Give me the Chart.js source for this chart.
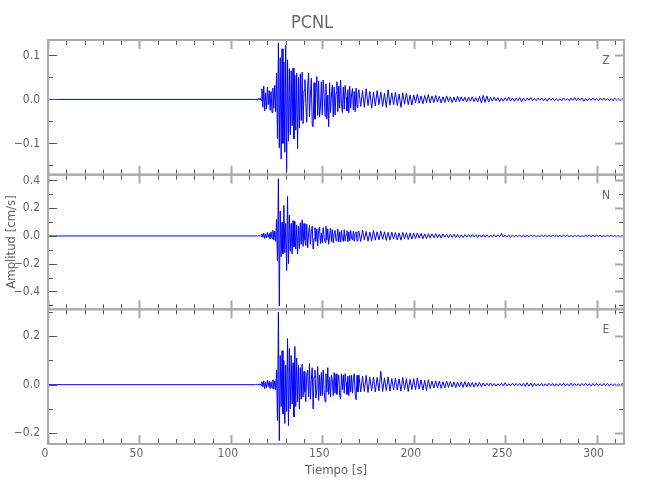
<!DOCTYPE html>
<html>
<head>
<meta charset="utf-8">
<title>PCNL</title>
<script src="https://cdn.jsdelivr.net/npm/chart.js@4.4.1/dist/chart.umd.min.js"></script>
<style>
  html, body { margin: 0; padding: 0; background: #fff; }
  #wrap { width: 650px; height: 500px; }
</style>
</head>
<body>
<div id="wrap"><canvas id="seismo" width="650" height="500"></canvas></div>
<script>
// ---- datos ----
// tiempo: tramo quieto hasta quietEnd, luego tramo A cada 0.5 s y tramo B cada 1 s
var quietEnd = 113.5;
var startA = 114, stepA = 0.5;
var startB = 170, stepB = 1;

// componente Z [cm/s]
var zA = [0.001,-0.002,0.002,-0.001,0.003,-0.002,
  0.024,-0.018,0.030,-0.026,0.015,-0.022,0.028,-0.012,0.020,-0.025,0.018,-0.030,0.026,-0.020,0.032,-0.028,
  0.060,-0.090,0.128,-0.110,0.095,-0.135,0.115,-0.100,0.085,-0.120,0.123,-0.165,
  0.090,-0.095,0.070,-0.080,0.065,-0.060,0.071,-0.090,0.055,-0.070,0.060,-0.112,0.050,-0.065,0.058,-0.048,0.062,-0.055,
  0.020,0.045,-0.010,-0.052,0.030,0.060,-0.040,0.010,0.048,-0.058,-0.062,0.038,-0.045,0.015,0.052,-0.036,0.042,-0.040,-0.015,0.040,
  -0.035,0.044,0.010,-0.038,0.035,-0.045,0.010,-0.062,0.038,-0.030,0.010,0.033,-0.040,0.028,-0.035,0.015,0.040,-0.028,0.030,-0.020,
  0.044,-0.010,-0.030,0.028,-0.022,0.032,0.005,-0.026,0.022,-0.030,0.030,-0.020,0.010,0.025,-0.024,0.018,-0.028,0.026,-0.018,0.012];
var zB = [0.022,-0.016,0.020,-0.018,0.024,-0.014,0.018,-0.020,0.016,-0.015,
  0.020,-0.012,0.017,-0.016,0.014,-0.018,0.022,-0.013,0.015,-0.012,
  0.016,-0.014,0.012,-0.018,0.015,-0.011,0.014,-0.012,0.010,-0.013,
  0.010,-0.008,0.012,-0.009,0.008,-0.010,0.009,-0.007,0.011,-0.008,
  0.008,-0.007,0.009,-0.006,0.007,-0.008,0.006,-0.007,0.008,-0.005,
  0.006,-0.007,0.005,-0.006,0.007,-0.005,0.006,-0.004,0.005,-0.006,
  0.005,-0.004,0.006,-0.005,0.004,-0.006,0.007,-0.008,0.009,-0.007,
  0.008,-0.006,0.005,-0.004,0.005,-0.003,0.004,-0.005,0.003,-0.004,
  0.004,-0.003,0.005,-0.004,0.003,-0.004,0.003,-0.003,0.004,-0.005,
  0.003,-0.004,0.003,-0.002,0.004,-0.003,0.002,-0.003,0.003,-0.002,
  0.003,-0.003,0.002,-0.004,0.003,-0.002,0.003,-0.003,0.002,-0.003,
  0.002,-0.003,0.003,-0.002,0.002,-0.003,0.003,-0.002,0.004,-0.003,
  0.003,-0.002,0.003,-0.004,0.002,-0.003,0.002,-0.002,0.003,-0.002,
  0.002,-0.003,0.003,-0.002,0.003,-0.002,0.002,-0.003,0.002,-0.003,
  0.003,-0.002,0.002,-0.003,0.002,-0.001];

// componente N [cm/s]
var nA = [0.002,-0.003,0.003,-0.002,0.004,-0.003,
  0.015,-0.010,0.020,-0.018,0.012,-0.015,0.025,-0.010,0.018,-0.022,0.030,-0.020,0.042,-0.030,0.035,-0.040,
  0.120,-0.180,0.413,-0.505,0.180,-0.150,0.100,-0.130,0.220,-0.120,0.090,-0.250,
  0.285,-0.200,0.150,-0.110,0.090,-0.130,0.110,-0.080,0.105,-0.095,0.080,-0.130,0.070,-0.090,0.095,-0.060,0.116,-0.075,
  0.090,-0.030,-0.070,0.085,-0.087,0.020,0.075,-0.060,0.030,0.070,-0.094,-0.020,0.060,-0.040,0.050,-0.070,0.040,0.065,-0.055,0.020,
  -0.050,0.060,-0.010,-0.045,0.070,-0.030,0.050,-0.060,0.010,0.055,-0.040,0.045,-0.050,0.020,0.040,-0.035,-0.010,0.048,-0.042,0.030,
  -0.045,0.040,-0.020,-0.040,0.045,-0.035,0.010,0.038,-0.042,0.030,-0.034,0.040,-0.015,-0.030,0.035,-0.038,0.020,0.030,-0.036,0.028];
var nB = [0.035,-0.040,0.043,-0.030,0.032,-0.038,0.028,-0.035,0.040,-0.030,
  0.030,-0.028,0.035,-0.025,0.030,-0.032,0.026,-0.030,0.028,-0.022,
  0.025,-0.028,0.022,-0.030,0.026,-0.020,0.024,-0.025,0.020,-0.022,
  0.020,-0.018,0.022,-0.016,0.018,-0.020,0.015,-0.018,0.016,-0.014,
  0.015,-0.012,0.016,-0.014,0.012,-0.015,0.014,-0.010,0.013,-0.012,
  0.012,-0.010,0.013,-0.011,0.010,-0.012,0.009,-0.011,0.010,-0.008,
  0.010,-0.009,0.011,-0.008,0.009,-0.010,0.008,-0.009,0.010,-0.008,
  0.008,-0.009,0.007,-0.008,0.009,-0.007,0.008,-0.006,0.018,-0.008,
  0.007,-0.006,0.006,-0.007,0.005,-0.006,0.006,-0.005,0.006,-0.007,
  0.005,-0.006,0.004,-0.005,0.006,-0.004,0.005,-0.006,0.004,-0.005,
  0.005,-0.004,0.006,-0.005,0.004,-0.006,0.005,-0.004,0.005,-0.005,
  0.004,-0.005,0.005,-0.004,0.006,-0.005,0.004,-0.006,0.005,-0.004,
  0.005,-0.006,0.004,-0.005,0.005,-0.004,0.006,-0.005,0.004,-0.005,
  0.005,-0.004,0.005,-0.006,0.004,-0.005,0.005,-0.004,0.006,-0.005,
  0.004,-0.005,0.004,-0.005,0.004,-0.003];

// componente E [cm/s]
var eA = [0.002,-0.002,0.003,-0.002,0.004,-0.003,
  0.012,-0.010,0.015,-0.017,0.010,-0.012,0.018,-0.008,0.014,-0.016,0.012,-0.014,0.020,-0.018,0.015,-0.022,
  0.060,-0.148,0.298,-0.230,0.120,-0.090,0.140,-0.120,0.100,-0.160,0.080,-0.110,
  0.190,-0.168,0.149,-0.100,0.120,-0.080,0.090,-0.132,0.157,-0.090,0.110,-0.070,0.080,-0.100,0.070,-0.060,0.085,-0.050,
  0.054,-0.030,-0.070,0.040,0.060,-0.050,0.087,-0.060,0.020,0.070,-0.100,0.030,0.060,-0.055,-0.020,0.075,-0.065,0.040,-0.045,0.050,
  -0.045,0.060,-0.020,-0.070,0.045,-0.030,0.070,-0.040,0.030,-0.050,0.040,0.020,-0.045,0.050,-0.035,0.045,-0.040,0.010,0.040,-0.045,
  -0.058,0.045,-0.020,0.040,-0.035,0.045,0.010,-0.040,0.035,-0.045,0.038,-0.030,0.040,-0.035,0.025,0.045,-0.040,-0.062,0.038,-0.030];
var eB = [0.040,-0.030,0.035,-0.028,0.038,-0.032,0.030,-0.025,0.032,-0.030,
  0.030,-0.025,0.055,-0.028,0.028,-0.024,0.032,-0.026,0.025,-0.022,
  0.028,-0.022,0.024,-0.026,0.030,-0.020,0.025,-0.028,0.022,-0.020,
  0.025,-0.020,0.028,-0.018,0.020,-0.022,0.018,-0.024,0.020,-0.016,
  0.015,-0.014,0.016,-0.012,0.014,-0.015,0.012,-0.013,0.015,-0.011,
  0.012,-0.010,0.011,-0.012,0.010,-0.009,0.012,-0.011,0.013,-0.010,
  0.010,-0.008,0.009,-0.010,0.008,-0.007,0.009,-0.008,0.007,-0.006,
  0.006,-0.005,0.007,-0.006,0.005,-0.006,0.004,-0.005,0.006,-0.005,
  0.008,-0.005,0.004,-0.005,0.006,-0.004,0.005,-0.004,0.005,-0.006,
  0.006,-0.007,0.008,-0.006,0.007,-0.008,0.006,-0.005,0.004,-0.005,
  0.005,-0.006,0.004,-0.005,0.006,-0.004,0.005,-0.006,0.004,-0.005,
  0.005,-0.004,0.006,-0.005,0.004,-0.005,0.006,-0.004,0.005,-0.004,
  0.004,-0.005,0.005,-0.004,0.006,-0.005,0.004,-0.005,0.005,-0.004,
  0.005,-0.004,0.004,-0.005,0.005,-0.004,0.005,-0.005,0.004,-0.004,
  0.004,-0.005,0.004,-0.004,0.005,-0.003];

// ejes
var xTicks = [0, 50, 100, 150, 200, 250, 300];
var xMinor = [0,10,20,30,40,50,60,70,80,90,100,110,120,130,140,150,160,170,180,190,200,210,220,230,240,250,260,270,280,290,300,310];
var zTicks = [-0.1, 0, 0.1];
var zMinor = [-0.15, -0.05, 0.05];
var nTicks = [-0.4, -0.2, 0, 0.2, 0.4];
var nMinor = [-0.5, -0.3, -0.1, 0.1, 0.3];
var eTicks = [-0.2, 0, 0.2];
var eMinor = [-0.1, 0.1, 0.3];

var FONT = "'Liberation Sans Narrow', 'DejaVu Sans Condensed', sans-serif";
var TXT = '#666';

function trace(segA, segB) {
  var pts = [{x: 0, y: 0}, {x: quietEnd, y: 0}];
  segA.forEach(function (v, i) { pts.push({x: startA + i * stepA, y: v}); });
  segB.forEach(function (v, i) { pts.push({x: startB + i * stepB, y: v}); });
  return pts;
}

function fmt(v) {
  if (Math.abs(v) < 1e-9) return '0.0';
  return (v < 0 ? '\u2212' : '') + Math.abs(v).toFixed(1);
}

function yAxis(min, max, ticks, title) {
  return {
    type: 'linear', position: 'left', stack: 'panel', stackWeight: 1,
    min: min, max: max,
    afterBuildTicks: function (s) { s.ticks = ticks.map(function (v) { return {value: v}; }); },
    afterFit: function (s) { s.width = 48; },
    grid: { display: false, drawTicks: false },
    border: { display: false },
    ticks: { color: TXT, font: { family: FONT, size: 12 }, padding: 8, callback: fmt },
    title: title ? { display: true, text: title, color: TXT, font: { family: FONT, size: 13 }, padding: { top: 4, bottom: 0 } } : { display: false }
  };
}

var panels = [
  { id: 'yZ', name: 'Z', ticks: zTicks, minor: zMinor },
  { id: 'yN', name: 'N', ticks: nTicks, minor: nMinor },
  { id: 'yE', name: 'E', ticks: eTicks, minor: eMinor }
];

// marco, marcas hacia dentro y letra de componente
var framePlugin = {
  id: 'framePlugin',
  afterDatasetsDraw: function (chart) {
    var ctx = chart.ctx, xs = chart.scales.x;
    var l = chart.chartArea.left, r = chart.chartArea.right;
    ctx.save();
    function seg(x1, y1, x2, y2, major) {
      ctx.beginPath();
      ctx.strokeStyle = major ? '#aaa' : '#555';
      ctx.lineWidth = major ? 2 : 1;
      ctx.moveTo(x1, y1); ctx.lineTo(x2, y2); ctx.stroke();
    }
    panels.forEach(function (p) {
      var s = chart.scales[p.id];
      var t = s.top, b = s.bottom;
      xMinor.forEach(function (v) {
        var px = Math.round(xs.getPixelForValue(v)) + 0.5;
        var major = xTicks.indexOf(v) >= 0;
        var len = major ? 9 : 5;
        seg(px, t, px, t + len, major);
        seg(px, b, px, b - len, major);
      });
      p.ticks.concat(p.minor).forEach(function (v) {
        var py = Math.round(s.getPixelForValue(v)) + 0.5;
        if (py < t || py > b) return;
        var major = p.ticks.indexOf(v) >= 0;
        var len = major ? 9 : 5;
        seg(l, py, l + len, py, false);
        seg(r, py, r - len, py, major);
      });
      ctx.strokeStyle = '#aaa';
      ctx.lineWidth = 2;
      ctx.strokeRect(l, t, r - l, b - t);
      ctx.fillStyle = TXT;
      ctx.font = '12px ' + FONT;
      ctx.textAlign = 'center';
      ctx.textBaseline = 'middle';
      ctx.fillText(p.name, r - 18, t + 21);
    });
    ctx.restore();
  }
};

var lineStyle = { borderColor: '#0000ff', borderWidth: 1, pointRadius: 0, tension: 0, fill: false };

new Chart(document.getElementById('seismo').getContext('2d'), {
  type: 'line',
  data: {
    datasets: [
      Object.assign({ label: 'Z', data: trace(zA, zB), yAxisID: 'yZ' }, lineStyle),
      Object.assign({ label: 'N', data: trace(nA, nB), yAxisID: 'yN' }, lineStyle),
      Object.assign({ label: 'E', data: trace(eA, eB), yAxisID: 'yE' }, lineStyle)
    ]
  },
  options: {
    responsive: false,
    animation: false,
    devicePixelRatio: 1,
    layout: { padding: { left: 0, right: 26, top: 0, bottom: 0 } },
    plugins: {
      legend: { display: false },
      tooltip: { enabled: false },
      title: {
        display: true, text: 'PCNL', color: TXT,
        font: { family: FONT, size: 18, weight: 'normal', lineHeight: 1.2 },
        padding: { top: 13, bottom: 5.4 }
      }
    },
    scales: {
      x: {
        type: 'linear', position: 'bottom', min: 0, max: 315,
        afterBuildTicks: function (s) { s.ticks = xTicks.map(function (v) { return {value: v}; }); },
        afterFit: function (s) { s.height = 56; },
        grid: { display: false, drawTicks: false },
        border: { display: false },
        ticks: { color: TXT, font: { family: FONT, size: 12 }, padding: 3, maxRotation: 0, autoSkip: false, labelOffset: -3 },
        title: { display: true, text: 'Tiempo [s]', color: TXT, font: { family: FONT, size: 13 }, padding: { top: 0, bottom: 22 } }
      },
      yE: yAxis(-0.244, 0.31, eTicks),
      yN: yAxis(-0.529, 0.442, nTicks, 'Amplitud [cm/s]'),
      yZ: yAxis(-0.171, 0.135, zTicks)
    }
  },
  plugins: [framePlugin]
});
</script>
</body>
</html>
